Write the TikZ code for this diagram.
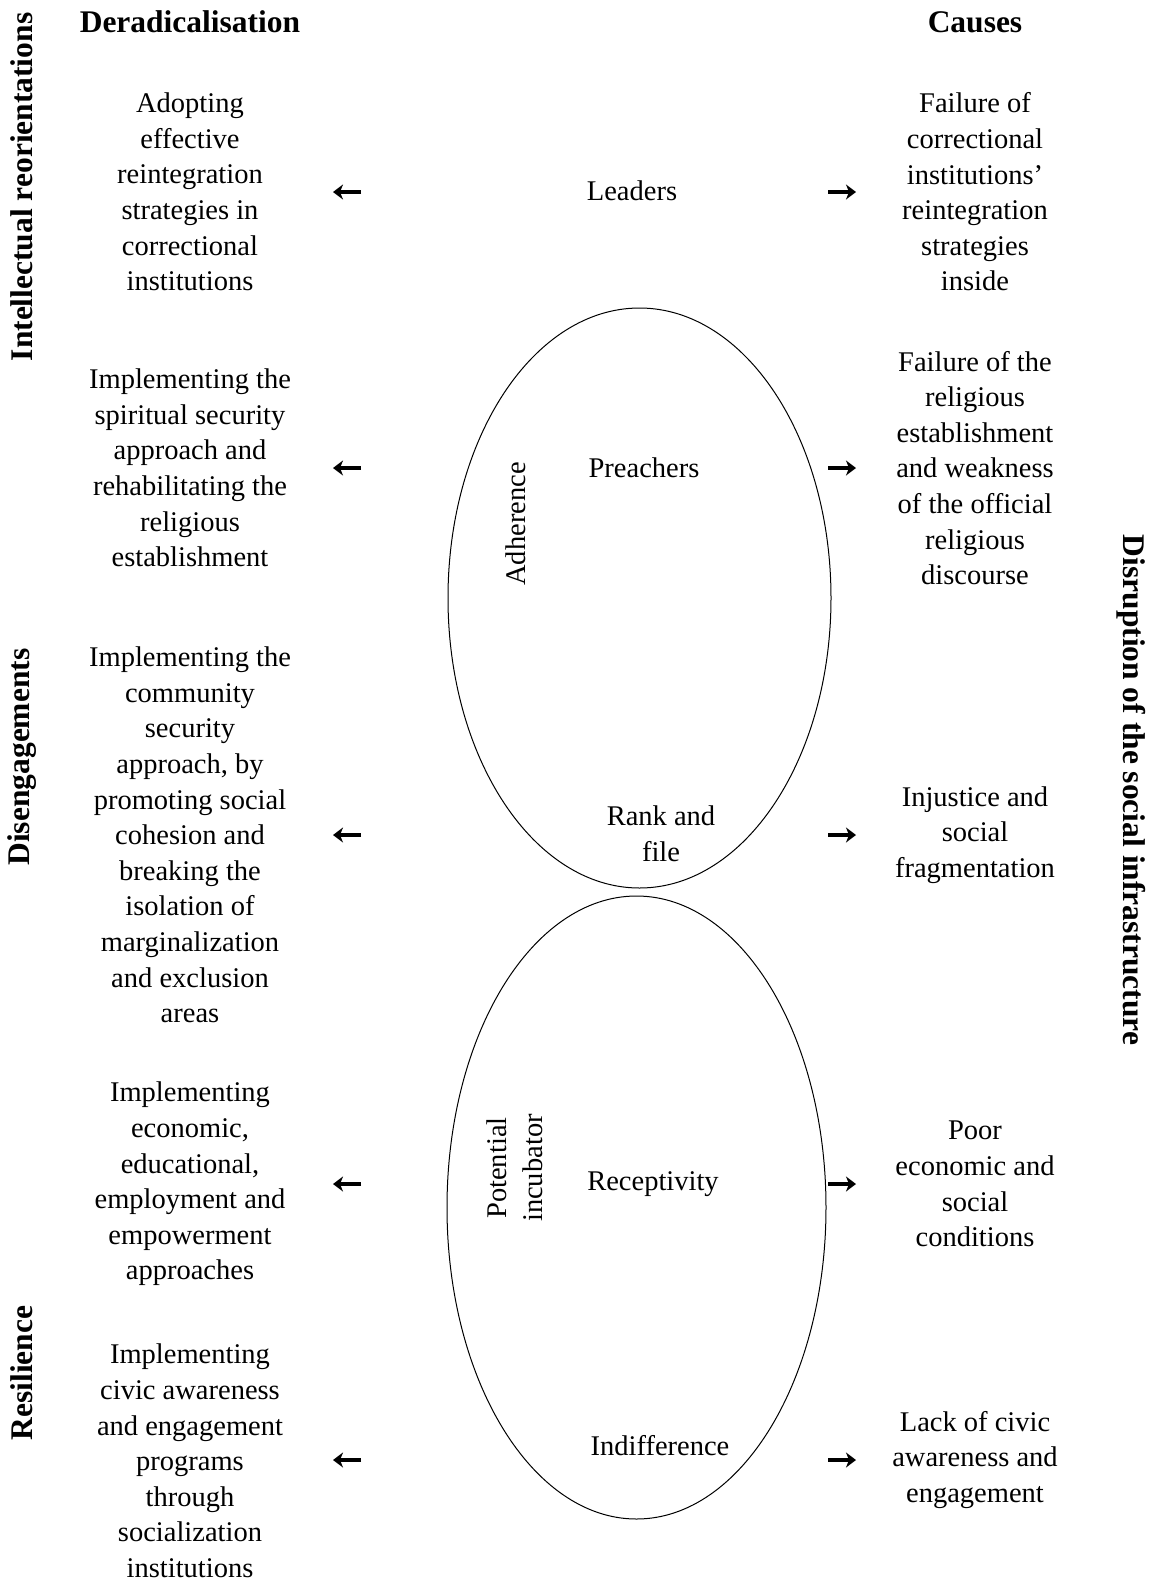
\documentclass[tikz,border=0pt]{standalone}
\usepackage{fontspec}
\setmainfont{Liberation Serif}
\usetikzlibrary{arrows.meta}
\begin{document}
\begin{tikzpicture}[x=1pt,y=-1pt,
  txt/.style={align=center,font=\fontsize{28.5}{35.6}\selectfont,inner sep=0pt},
  head/.style={font=\fontsize{31.5}{36}\selectfont\bfseries,inner sep=0pt},
  arr/.style={line width=3.4pt,-{Stealth[length=10pt,width=15pt,inset=3pt]}},
  oval/.style={draw,line width=1pt}]
\path[use as bounding box,fill=white] (0,0) rectangle (1152,1583);
% headings
\node[head] (hl) at (190,22) {Deradicalisation};
\node[head] (hr) at (975,22) {Causes};
\node[head,rotate=90] (v1) at (22,187) {Intellectual reorientations};
\node[head,rotate=90] (v2) at (22,757) {Disengagements};
\node[head,rotate=90] (v3) at (22,1373) {Resilience};
\node[head,rotate=-90] (v4) at (1131,790) {Disruption of the social infrastructure};
% ellipses
\draw[oval] (639.5,598) ellipse [x radius=191.5, y radius=290];
\draw[oval] (636.5,1207.5) ellipse [x radius=189.5, y radius=311.5];
\node[txt,rotate=90] (adh) at (516,524) {Adherence};
\node[txt,rotate=90] (inc) at (515,1168) {Potential\\incubator};
% middle
\node[txt] (m1) at (632,191) {Leaders};
\node[txt] (m2) at (644,468) {Preachers};
\node[txt] (m3) at (661,834) {Rank and\\file};
\node[txt] (m4) at (653,1184) {Receptivity};
\node[txt] (m5) at (660,1446) {Indifference};
% left
\node[txt] (l1) at (190,192) {Adopting\\effective\\reintegration\\strategies in\\correctional\\institutions};
\node[txt] (l2) at (190,468) {Implementing the\\spiritual security\\approach and\\rehabilitating the\\religious\\establishment};
\node[txt] (l3) at (190,835) {Implementing the\\community\\security\\approach, by\\promoting social\\cohesion and\\breaking the\\isolation of\\marginalization\\and exclusion\\areas};
\node[txt] (l4) at (190,1184) {Implementing\\economic,\\educational,\\employment and\\empowerment\\approaches};
\node[txt] (l5) at (190,1461) {Implementing\\civic awareness\\and engagement\\programs\\through\\socialization\\institutions};
% right
\node[txt] (r1) at (975,192) {Failure of\\correctional\\institutions’\\reintegration\\strategies\\inside};
\node[txt] (r2) at (975,468) {Failure of the\\religious\\establishment\\and weakness\\of the official\\religious\\discourse};
\node[txt] (r3) at (975,835) {Injustice and\\social\\fragmentation};
\node[txt] (r4) at (975,1184) {Poor\\economic and\\social\\conditions};
\node[txt] (r5) at (975,1460) {Lack of civic\\awareness and\\engagement};
% arrows
\foreach \i/\y in {1/192,2/468,3/835,4/1184,5/1460}{
  \coordinate (ls\i) at (361,\y);
  \coordinate (le\i) at (333,\y);
  \coordinate (rs\i) at (828,\y);
  \coordinate (re\i) at (856,\y);
  \draw[arr] (ls\i) -- (le\i);
  \draw[arr] (rs\i) -- (re\i);
}
\end{tikzpicture}
\end{document}
